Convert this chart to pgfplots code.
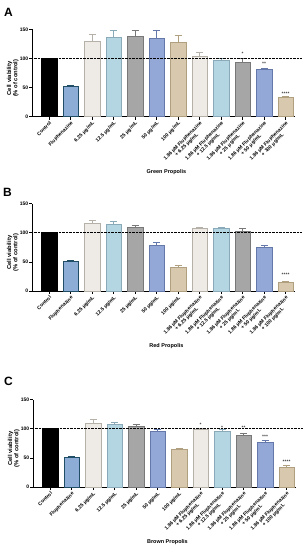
\documentclass[border=0pt]{standalone}
\usepackage{pgfplots}
\pgfplotsset{compat=1.18}
\usepackage{fontspec}
\setmainfont{Liberation Sans}
\setsansfont{Liberation Sans}

\definecolor{fluF}{HTML}{8EADD6}\definecolor{fluE}{HTML}{1F4E66}
\definecolor{c1F}{HTML}{EEEBE6}\definecolor{c1E}{HTML}{B5B0A8}
\definecolor{c2F}{HTML}{B3D6E2}\definecolor{c2E}{HTML}{8AAABA}
\definecolor{c3F}{HTML}{A6A6A6}\definecolor{c3E}{HTML}{787878}
\definecolor{c4F}{HTML}{93A8D6}\definecolor{c4E}{HTML}{6478AA}
\definecolor{c5F}{HTML}{D8C9AE}\definecolor{c5E}{HTML}{B0A080}

\newcommand{\tl}{\bfseries\fontsize{5}{5.4}\selectfont}
\newcommand{\ax}{\bfseries\fontsize{5}{6}\selectfont}
\newcommand{\yl}{\bfseries\fontsize{5.8}{6.3}\selectfont}
\newcommand{\xl}{\bfseries\fontsize{5.5}{6}\selectfont}

\pgfplotsset{
  panel/.style={
    scale only axis, width=263pt, height=87.3pt,
    xmin=-0.78, xmax=11.45, ymin=0, ymax=150,
    axis lines=left, axis line style={-, line width=0.8pt},
    ybar, bar width=15.5pt, bar shift=0pt, clip=false,
    xtick={0,...,11}, ytick={0,50,100,150},
    tick align=outside, major tick length=3pt,
    tick style={black, line width=0.6pt},
    /pgf/number format/assume math mode=true,
    yticklabel style={font=\ax, inner sep=1pt},
    xticklabel style={rotate=45, anchor=north east, align=center, font=\tl, inner sep=0.8pt},
    xticklabels={Control, Fluphenazine, 6.25 μg/mL, 12.5 μg/mL, 25 μg/mL, 50 μg/mL, 100 μg/mL,
      {1.86 μM Fluphenazine\\+ 6.25 μg/mL}, {1.86 μM Fluphenazine\\+ 12.5 μg/mL},
      {1.86 μM Fluphenazine\\+ 25 μg/mL}, {1.86 μM Fluphenazine\\+ 50 μg/mL},
      {1.86 μM Fluphenazine\\+ 100 μg/mL}},
    xlabel style={at={(axis description cs:0.51,0)}, anchor=center, yshift=-55pt, font=\xl},
  },
  bb/.style 2 args={fill=#1, draw=#2, line width=0.6pt,
    error bars/y dir=plus, error bars/y explicit,
    error bars/error bar style={draw=#2, line width=0.6pt},
    error bars/error mark options={draw=#2, rotate=90, mark size=3.5pt, line width=0.6pt}},
}
\newcommand{\refline}{\draw[black, line width=0.6pt, dash pattern=on 0.7pt off 0.7pt] (axis cs:-0.78,100) -- (axis cs:11.76,100);
  \node[rotate=90, anchor=south, align=center, font=\yl, inner sep=0pt] at (axis description cs:-0.051,0.44) {Cell viability\\(\% of control)};}
\newcommand{\st}{\fontsize{5}{6}\selectfont}

\begin{document}
\begin{tikzpicture}
\useasboundingbox (0,0) rectangle (305pt,550pt);

% ---------- A ----------
\begin{axis}[panel, at={(32.3pt,433.3pt)}, anchor=south west, xlabel={Green Propolis}]
\addplot[bb={black}{black}] coordinates {(0,100)};
\addplot[bb={fluF}{fluE}] coordinates {(1,51.5) +- (0,2.5)};
\addplot[bb={c1F}{c1E}] coordinates {(2,129) +- (0,12)};
\addplot[bb={c2F}{c2E}] coordinates {(3,137) +- (0,12)};
\addplot[bb={c3F}{c3E}] coordinates {(4,138) +- (0,11)};
\addplot[bb={c4F}{c4E}] coordinates {(5,134.5) +- (0,14.5)};
\addplot[bb={c5F}{c5E}] coordinates {(6,128) +- (0,12)};
\addplot[bb={c1F}{c1E}] coordinates {(7,103) +- (0,7)};
\addplot[bb={c2F}{c2E}] coordinates {(8,97) +- (0,2.5)};
\addplot[bb={c3F}{c3E}] coordinates {(9,93) +- (0,8)};
\addplot[bb={c4F}{c4E}] coordinates {(10,82) +- (0,1.5)};
\addplot[bb={c5F}{c5E}] coordinates {(11,34) +- (0,1)};
\refline
\node[anchor=base, font=\st, inner sep=0pt] at (axis cs:9,105) {*};
\node[anchor=base, font=\st, inner sep=0pt] at (axis cs:10,88) {**};
\node[anchor=base, font=\st, inner sep=0pt] at (axis cs:11,37) {****};
\end{axis}

% ---------- B ----------
\begin{axis}[panel, at={(32.3pt,259pt)}, anchor=south west, xlabel={Red Propolis}]
\addplot[bb={black}{black}] coordinates {(0,100)};
\addplot[bb={fluF}{fluE}] coordinates {(1,50.6) +- (0,2.4)};
\addplot[bb={c1F}{c1E}] coordinates {(2,115.5) +- (0,5.5)};
\addplot[bb={c2F}{c2E}] coordinates {(3,115) +- (0,4)};
\addplot[bb={c3F}{c3E}] coordinates {(4,110) +- (0,3)};
\addplot[bb={c4F}{c4E}] coordinates {(5,79) +- (0,5)};
\addplot[bb={c5F}{c5E}] coordinates {(6,41) +- (0,4)};
\addplot[bb={c1F}{c1E}] coordinates {(7,108.4) +- (0,0.8)};
\addplot[bb={c2F}{c2E}] coordinates {(8,107.5) +- (0,2.5)};
\addplot[bb={c3F}{c3E}] coordinates {(9,103.4) +- (0,4.6)};
\addplot[bb={c4F}{c4E}] coordinates {(10,75) +- (0,4)};
\addplot[bb={c5F}{c5E}] coordinates {(11,14.4) +- (0,1.6)};
\refline
\node[anchor=base, font=\st, inner sep=0pt] at (axis cs:11,25.5) {****};
\end{axis}

% ---------- C ----------
\begin{axis}[panel, at={(33.3pt,63pt)}, anchor=south west, xlabel={Brown Propolis}]
\addplot[bb={black}{black}] coordinates {(0,100)};
\addplot[bb={fluF}{fluE}] coordinates {(1,51) +- (0,2.6)};
\addplot[bb={c1F}{c1E}] coordinates {(2,110) +- (0,6)};
\addplot[bb={c2F}{c2E}] coordinates {(3,108) +- (0,4)};
\addplot[bb={c3F}{c3E}] coordinates {(4,105) +- (0,2)};
\addplot[bb={c4F}{c4E}] coordinates {(5,96.4) +- (0,2.3)};
\addplot[bb={c5F}{c5E}] coordinates {(6,65) +- (0,1)};
\addplot[bb={c1F}{c1E}] coordinates {(7,99) +- (0,2)};
\addplot[bb={c2F}{c2E}] coordinates {(8,95) +- (0,3.7)};
\addplot[bb={c3F}{c3E}] coordinates {(9,88) +- (0,4)};
\addplot[bb={c4F}{c4E}] coordinates {(10,76) +- (0,4)};
\addplot[bb={c5F}{c5E}] coordinates {(11,34) +- (0,3.6)};
\refline
\node[anchor=base, font=\st, inner sep=0pt] at (axis cs:7,104) {*};
\node[anchor=base, font=\st, inner sep=0pt] at (axis cs:8,99.5) {*};
\node[anchor=base, font=\st, inner sep=0pt] at (axis cs:9,98) {**};
\node[anchor=base, font=\st, inner sep=0pt] at (axis cs:10,84) {***};
\node[anchor=base, font=\st, inner sep=0pt] at (axis cs:11,41) {****};
\end{axis}

\node[font=\bfseries\fontsize{12}{13}\selectfont] at (8.5pt,538pt) {A};
\node[font=\bfseries\fontsize{12}{13}\selectfont] at (7.5pt,358pt) {B};
\node[font=\bfseries\fontsize{12}{13}\selectfont] at (8.5pt,169pt) {C};
\end{tikzpicture}
\end{document}
